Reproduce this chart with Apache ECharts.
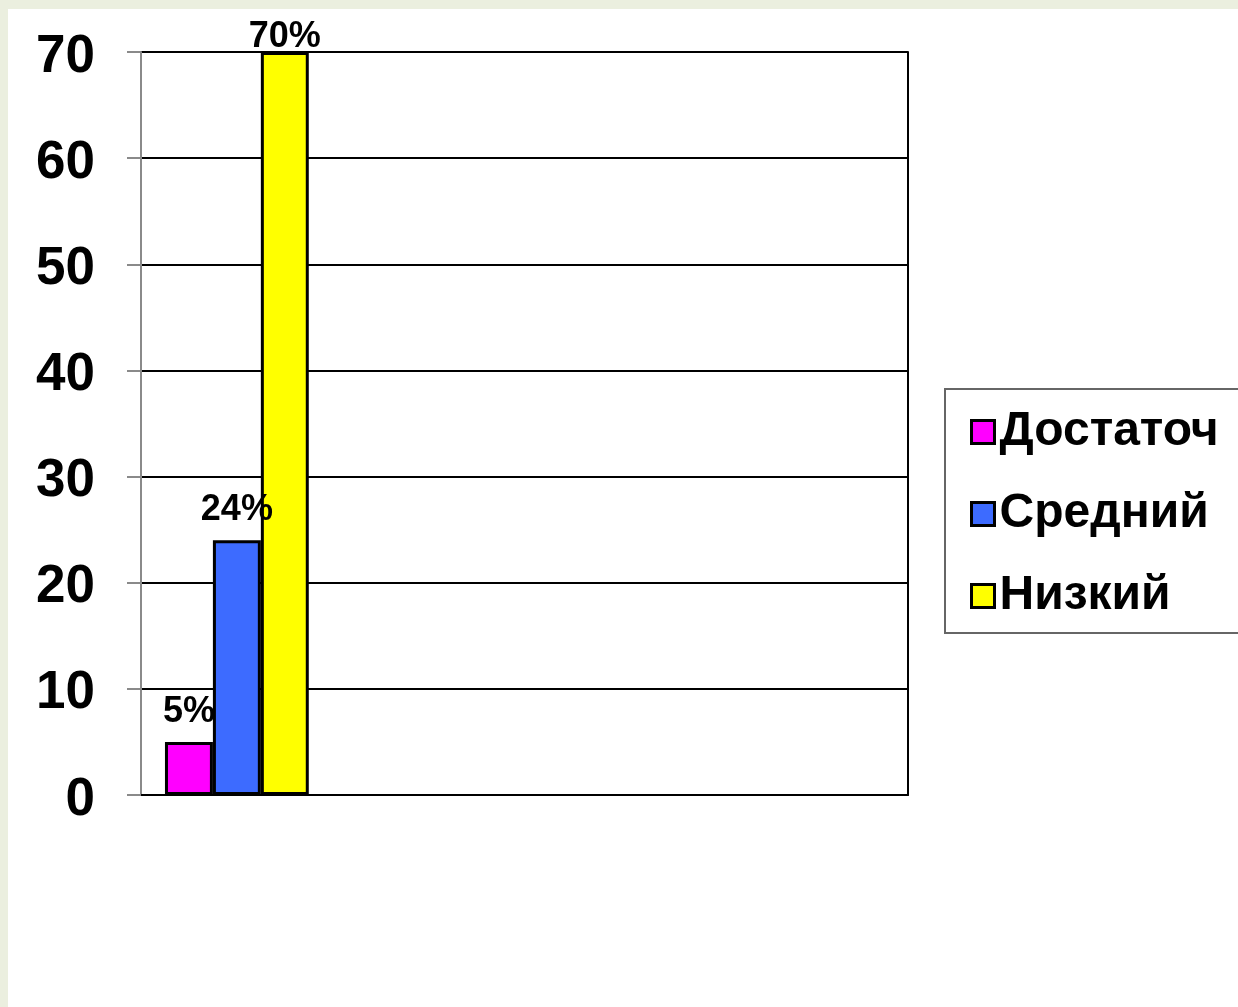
<!DOCTYPE html>
<html>
<head>
<meta charset="utf-8">
<script src="https://cdn.jsdelivr.net/npm/echarts@6/dist/echarts.min.js"></script>
<style>
  html, body { margin: 0; padding: 0; background: #ebefdf; width: 1238px; height: 1007px; overflow: hidden; }
  #chart { position: absolute; left: 8px; top: 9px; width: 1230px; height: 998px; background: #ffffff; }
</style>
</head>
<body>
<div id="chart"></div>
<script>
const categories = ['', '', '', ''];
const seriesNames = ['Достаточ', 'Средний', 'Низкий'];
const dostatoch = [5, null, null, null];
const sredniy = [24, null, null, null];
const nizkiy = [70, null, null, null];
const seriesColors = ['#ff00ff', '#3d6bff', '#ffff00'];
const yTicks = [0, 10, 20, 30, 40, 50, 60, 70];

const FONT = "'Liberation Sans', Arial, sans-serif";
const chart = echarts.init(document.getElementById('chart'));

function makeSeries(name, data, color) {
  return {
    name: name,
    type: 'bar',
    data: data.map(v => v == null ? null : {
      value: v,
      label: { distance: v === 70 ? -3 : 12 }
    }),
    barGap: '0%',
    barCategoryGap: '25%',
    itemStyle: { color: color, borderColor: '#000', borderWidth: 3 },
    label: {
      show: true,
      position: 'top',
      formatter: p => p.value + '%',
      color: '#000',
      fontFamily: FONT,
      fontWeight: 'bold',
      fontSize: 36
    }
  };
}

chart.setOption({
  animation: false,
  backgroundColor: '#ffffff',
  grid: { left: 133, top: 43, right: 330, bottom: 212, containLabel: false },
  legend: {
    orient: 'vertical',
    left: 937,
    top: 380,
    data: seriesNames,
    backgroundColor: '#fff',
    borderColor: '#666',
    borderWidth: 2,
    borderRadius: 0,
    padding: [19, 60, 13, 25],
    itemWidth: 23,
    itemHeight: 23,
    itemGap: 34,
    itemTextGap: 13,
    icon: 'rect',
    itemStyle: { borderColor: '#000', borderWidth: 3 },
    textStyle: { color: '#000', fontFamily: FONT, fontWeight: 'bold', fontSize: 48 }
  },
  xAxis: {
    type: 'category',
    data: categories,
    axisLine: { show: true, lineStyle: { color: '#000', width: 2 } },
    axisTick: { show: false },
    axisLabel: { show: false },
    splitLine: { show: false }
  },
  yAxis: [{
    type: 'value',
    min: yTicks[0],
    max: yTicks[yTicks.length - 1],
    interval: 10,
    axisLine: { show: true, lineStyle: { color: '#8a8a8a', width: 2 } },
    axisTick: { show: true, length: 14, lineStyle: { color: '#8a8a8a', width: 2 } },
    axisLabel: {
      margin: 46,
      formatter: v => '{n|' + v + '}',
      rich: {
        n: { color: '#000', fontFamily: FONT, fontWeight: 'bold', fontSize: 53, padding: [10, 0, 0, 0] }
      }
    },
    splitLine: { show: true, lineStyle: { color: '#000', width: 2 } }
  }, {
    type: 'value',
    position: 'right',
    min: yTicks[0],
    max: yTicks[yTicks.length - 1],
    interval: 10,
    axisLine: { show: true, lineStyle: { color: '#000', width: 2 } },
    axisTick: { show: false },
    axisLabel: { show: false },
    splitLine: { show: false }
  }],
  series: [
    makeSeries(seriesNames[0], dostatoch, seriesColors[0]),
    makeSeries(seriesNames[1], sredniy, seriesColors[1]),
    makeSeries(seriesNames[2], nizkiy, seriesColors[2])
  ]
});
</script>
</body>
</html>
